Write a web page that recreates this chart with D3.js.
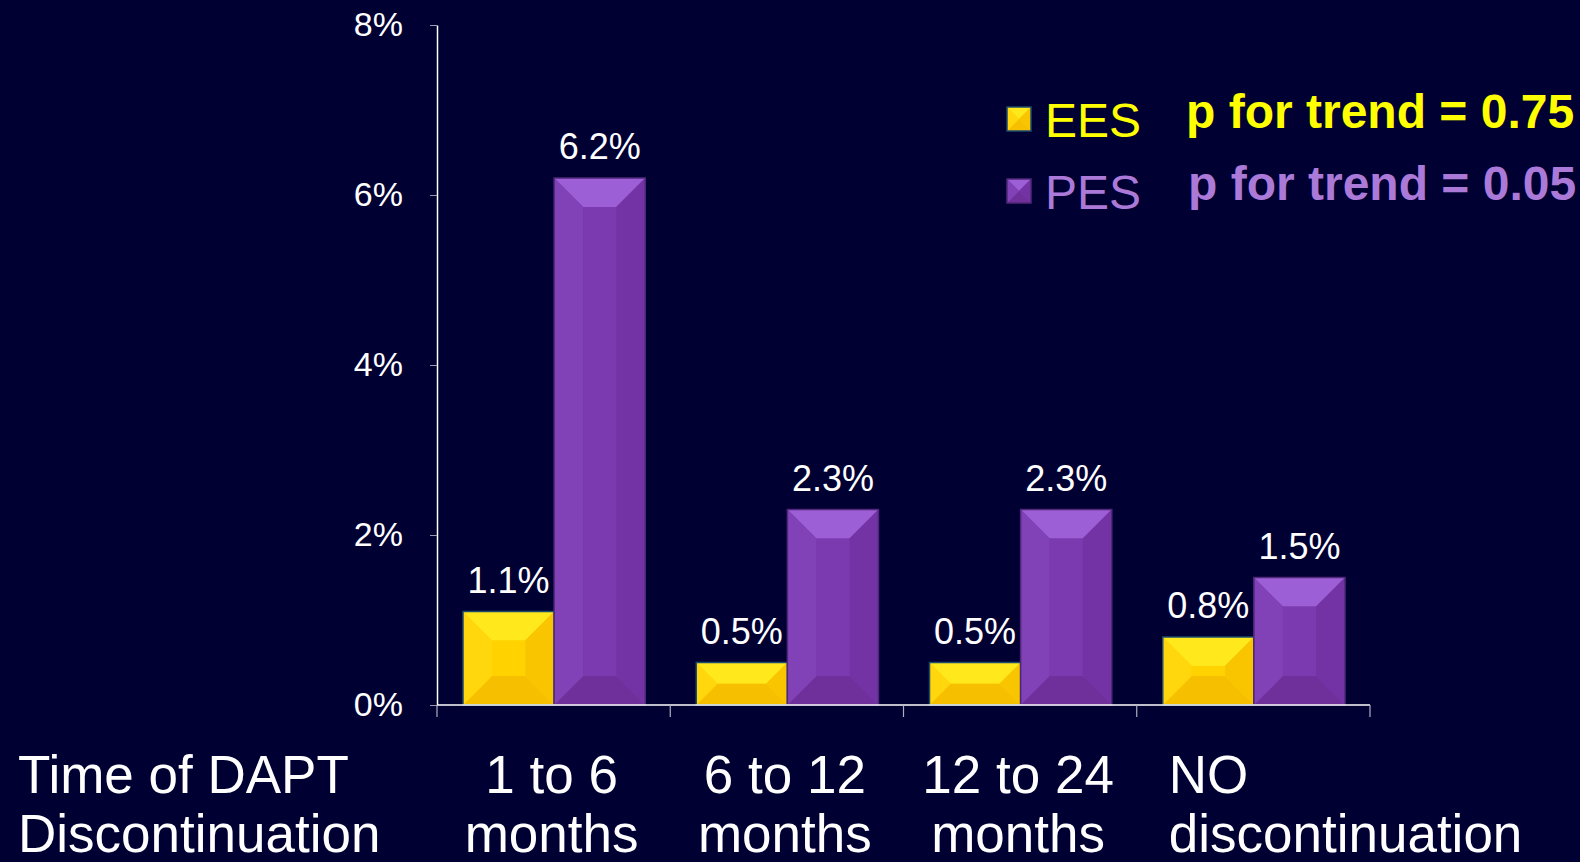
<!DOCTYPE html>
<html>
<head>
<meta charset="utf-8">
<script src="https://cdn.jsdelivr.net/npm/d3@7"></script>
<style>
  html, body { margin: 0; padding: 0; background: #000033; }
  svg { display: block; font-family: "Liberation Sans", Arial, sans-serif; }
</style>
</head>
<body>
<div id="chart"></div>
<script>
// data
var categories = ["1 to 6 months", "6 to 12 months", "12 to 24 months", "NO discontinuation"];
var categoryLines = [["1 to 6", "months"], ["6 to 12", "months"], ["12 to 24", "months"], ["NO", "discontinuation"]];
var series = ["EES", "PES"];
var eesValues = [1.1, 0.5, 0.5, 0.8];
var pesValues = [6.2, 2.3, 2.3, 1.5];
var yTicks = [0, 2, 4, 6, 8];
var trendLabels = ["p for trend = 0.75", "p for trend = 0.05"];
var axisTitle = ["Time of DAPT", "Discontinuation"];

var width = 1580, height = 862;
var margin = { top: 25, right: 210, bottom: 157, left: 437 };

var svg = d3.select("#chart").append("svg")
  .attr("width", width)
  .attr("height", height);

svg.append("rect").attr("width", width).attr("height", height).attr("fill", "#000033");

// facet colours: top, left, centre, right, bottom, outline
var palette = {
  EES: { top: "#ffe91c", left: "#ffd70c", mid: "#ffd200", right: "#f9c400", bottom: "#f6bf00", edge: "#1d4c6c" },
  PES: { top: "#9d5fd5", left: "#8242b7", mid: "#7b3aaf", right: "#7333a5", bottom: "#6f309b", edge: "#4f2778" }
};

var x = d3.scaleBand().domain(categories).range([margin.left, width - margin.right]);
var xSub = d3.scaleBand().domain(series).range([26, x.bandwidth() - 25]);
var y = d3.scaleLinear().domain([0, 8]).range([height - margin.bottom, margin.top]);

var rows = categories.map(function (c, i) {
  return { cat: c, values: [{ key: "EES", v: eesValues[i] }, { key: "PES", v: pesValues[i] }] };
});

// bevelled box like the PowerPoint "pyramid" bars
function bevelBox(g, x0, y0, w, h, col, maxDepth) {
  var d = Math.min(maxDepth, w / 2, h / 2);
  var x1 = x0 + w, y1 = y0 + h;
  function poly(pts, fill) {
    g.append("polygon")
      .attr("points", pts.map(function (p) { return p.join(","); }).join(" "))
      .attr("fill", fill);
  }
  g.append("rect").attr("x", x0).attr("y", y0).attr("width", w).attr("height", h).attr("fill", col.mid);
  poly([[x0, y0], [x1, y0], [x1 - d, y0 + d], [x0 + d, y0 + d]], col.top);
  poly([[x0, y1], [x1, y1], [x1 - d, y1 - d], [x0 + d, y1 - d]], col.bottom);
  poly([[x0, y0], [x0 + d, y0 + d], [x0 + d, y1 - d], [x0, y1]], col.left);
  poly([[x1, y0], [x1 - d, y0 + d], [x1 - d, y1 - d], [x1, y1]], col.right);
  g.append("rect").attr("x", x0 + d).attr("y", y0 + d)
    .attr("width", Math.max(0, w - 2 * d)).attr("height", Math.max(0, h - 2 * d))
    .attr("fill", col.mid);
  g.append("rect").attr("x", x0).attr("y", y0).attr("width", w).attr("height", h)
    .attr("fill", "none").attr("stroke", col.edge).attr("stroke-width", 1.5);
}

// y axis
var yAxis = svg.append("g")
  .attr("transform", "translate(" + margin.left + ",0)")
  .call(d3.axisLeft(y).tickValues(yTicks).tickFormat(function (d) { return d + "%"; }).tickSize(7).tickSizeOuter(0).tickPadding(27));
yAxis.select(".domain").attr("stroke", "#ffffff").attr("stroke-width", 1.5);
yAxis.selectAll(".tick line").attr("stroke", "#9a9ab0");
yAxis.selectAll(".tick text").attr("fill", "#ffffff").style("font-size", "34px")
  .style("font-family", "Liberation Sans, Arial, sans-serif");

// bars
var groups = svg.selectAll(".cat").data(rows).enter().append("g")
  .attr("class", "cat")
  .attr("transform", function (d) { return "translate(" + x(d.cat) + ",0)"; });

groups.each(function (row) {
  var g = d3.select(this);
  row.values.forEach(function (s) {
    var bx = xSub(s.key), by = y(s.v), bw = xSub.bandwidth(), bh = y(0) - y(s.v);
    bevelBox(g.append("g"), bx, by, bw, bh, palette[s.key], 29);
    g.append("text")
      .attr("x", bx + bw / 2)
      .attr("y", by - 19)
      .attr("text-anchor", "middle")
      .attr("fill", "#ffffff")
      .style("font-size", "36px")
      .text(s.v.toFixed(1) + "%");
  });
});

// x axis line + ticks at category boundaries
var bounds = categories.map(function (c) { return x(c); }).concat([x.range()[1]]);
svg.append("line")
  .attr("x1", x.range()[0]).attr("x2", x.range()[1])
  .attr("y1", y(0)).attr("y2", y(0))
  .attr("stroke", "#ffffff").attr("stroke-width", 1.5);
svg.selectAll(".xtick").data(bounds).enter().append("line")
  .attr("x1", function (d) { return d; }).attr("x2", function (d) { return d; })
  .attr("y1", y(0)).attr("y2", y(0) + 12)
  .attr("stroke", "#b0b0c0").attr("stroke-width", 1.2);

// category labels
categories.forEach(function (c, i) {
  var last = i === categories.length - 1;
  var t = svg.append("text")
    .attr("fill", "#ffffff")
    .style("font-size", "53px")
    .attr("text-anchor", last ? "start" : "middle");
  categoryLines[i].forEach(function (line, j) {
    t.append("tspan")
      .attr("x", last ? x(c) + 32 : x(c) + x.bandwidth() / 2 - 2)
      .attr("y", 793 + j * 59)
      .text(line);
  });
});

var title = svg.append("text").attr("fill", "#ffffff").style("font-size", "53px");
axisTitle.forEach(function (line, j) {
  title.append("tspan").attr("x", 18).attr("y", 793 + j * 59).text(line);
});

// legend
var legendColors = { EES: "#ffff00", PES: "#ab7ad8" };
series.forEach(function (s, i) {
  var ly = 107 + i * 72;
  bevelBox(svg.append("g"), 1007, ly, 24, 24, palette[s], 12);
  svg.append("text")
    .attr("x", 1045).attr("y", ly + 30)
    .attr("fill", legendColors[s])
    .style("font-size", "48px")
    .text(s);
  svg.append("text")
    .attr("x", 1186 + i * 2).attr("y", ly + 21)
    .attr("fill", legendColors[s])
    .style("font-size", "48px")
    .style("font-weight", "bold")
    .text(trendLabels[i]);
});
</script>
</body>
</html>
